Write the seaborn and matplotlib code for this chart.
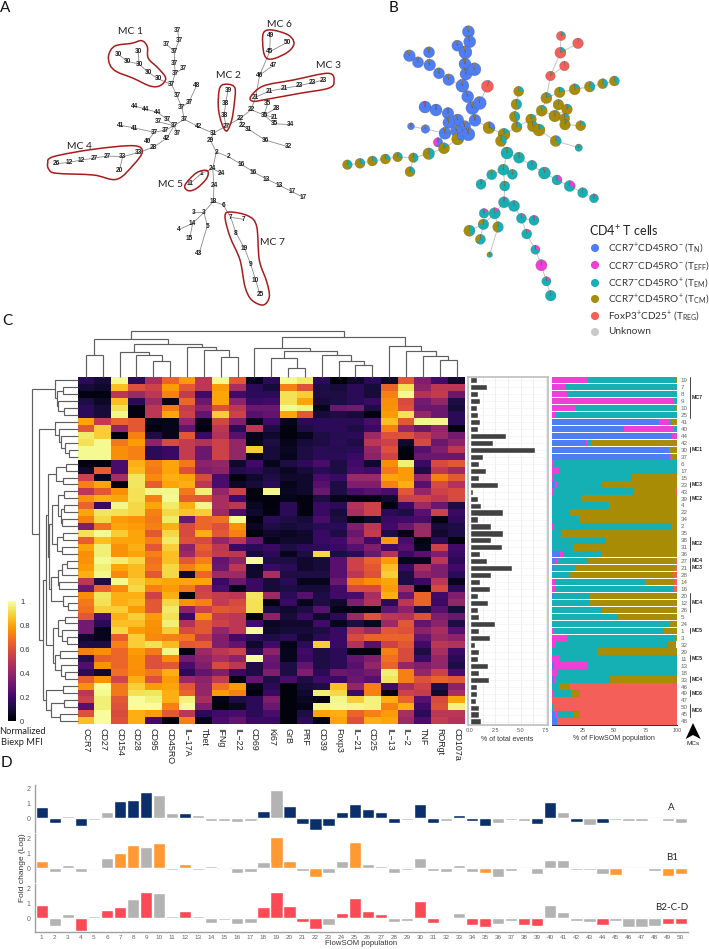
import numpy as np
import pandas as pd
import seaborn as sns
from matplotlib import pyplot as plt
from matplotlib.patches import PathPatch, Polygon
from matplotlib.path import Path

W, H = 709, 949
HEAT_BOX = (77.5, 376.7, 465.0, 724.3)
ROW_H = (HEAT_BOX[3] - HEAT_BOX[1]) / 50
COL_W = (HEAT_BOX[2] - HEAT_BOX[0]) / 23

MARKERS = ["CCR7", "CD27", "CD154", "CD28", "CD95", "CD45RO", "IL\u221217A", "Tbet", "IFNg", "IL\u221222",
           "CD69", "Ki67", "GrB", "PRF", "CD39", "Foxp3", "IL\u221221", "CD25", "IL\u221213", "IL\u22122",
           "TNF", "RORgt", "CD107a"]

# populations top to bottom as in the heatmap
ROW_POPS = [19, 7, 8, 9, 10, 25, 41, 40, 44, 42, 30, 37, 6, 17, 15, 23, 43, 39, 4, 22, 34, 2, 35, 38, 31,
            36, 27, 21, 28, 14, 16, 20, 12, 26, 5, 24, 1, 3, 32, 29, 11, 13, 18, 33, 46, 49, 47, 50, 45, 48]

# biexp MFI x100, rows as ROW_POPS, columns as MARKERS
HEAT = [
    [15, 10, 98, 15, 45, 65, 78, 50, 98, 62, 5, 15, 98, 94, 15, 2, 8, 15, 8, 62, 35, 20, 8],
    [10, 8, 85, 60, 55, 78, 62, 50, 78, 45, 15, 10, 72, 60, 12, 10, 15, 10, 65, 92, 38, 50, 50],
    [3, 3, 50, 42, 50, 72, 52, 20, 80, 20, 15, 15, 92, 88, 12, 12, 15, 10, 72, 98, 48, 52, 30],
    [12, 7, 85, 15, 42, 5, 66, 30, 80, 38, 18, 20, 92, 80, 10, 12, 15, 18, 75, 58, 32, 40, 12],
    [15, 10, 92, 3, 50, 70, 52, 38, 60, 50, 30, 30, 98, 96, 5, 30, 32, 12, 76, 60, 30, 30, 10],
    [15, 10, 97, 3, 50, 80, 55, 28, 88, 55, 25, 28, 80, 62, 10, 12, 10, 3, 78, 92, 40, 30, 15],
    [80, 52, 65, 62, 5, 5, 40, 5, 57, 35, 5, 20, 5, 15, 15, 15, 15, 22, 85, 62, 97, 97, 15],
    [62, 88, 40, 62, 3, 5, 28, 3, 50, 15, 50, 12, 3, 12, 15, 15, 12, 18, 72, 40, 30, 40, 3],
    [94, 88, 1, 72, 12, 5, 62, 18, 48, 25, 5, 8, 2, 5, 12, 14, 15, 42, 60, 60, 52, 42, 32],
    [92, 98, 70, 78, 38, 58, 52, 48, 55, 40, 5, 12, 5, 10, 12, 15, 12, 50, 55, 8, 58, 30, 38],
    [98, 98, 75, 72, 15, 18, 52, 30, 55, 40, 88, 10, 6, 12, 15, 14, 15, 40, 60, 3, 25, 35, 50],
    [98, 98, 75, 72, 15, 18, 52, 30, 55, 40, 5, 10, 5, 12, 15, 15, 18, 38, 55, 2, 30, 30, 30],
    [3, 2, 22, 82, 72, 80, 70, 38, 40, 8, 20, 5, 12, 16, 22, 12, 20, 8, 75, 95, 18, 58, 62],
    [8, 64, 22, 84, 70, 80, 60, 35, 38, 13, 15, 10, 6, 10, 15, 12, 22, 20, 70, 78, 12, 50, 42],
    [55, 6, 45, 93, 74, 82, 80, 58, 22, 2, 8, 12, 8, 8, 22, 18, 42, 42, 80, 78, 40, 72, 62],
    [72, 80, 3, 93, 64, 80, 82, 50, 22, 7, 10, 15, 5, 8, 25, 12, 35, 35, 72, 82, 25, 58, 48],
    [50, 62, 75, 92, 97, 97, 70, 95, 40, 55, 2, 97, 6, 8, 30, 12, 22, 25, 22, 62, 40, 55, 58],
    [76, 82, 80, 92, 72, 98, 63, 62, 45, 20, 3, 3, 5, 3, 12, 5, 3, 3, 8, 55, 55, 50, 58],
    [65, 18, 97, 90, 80, 94, 82, 97, 45, 50, 6, 2, 15, 3, 18, 15, 48, 55, 3, 18, 42, 30, 12],
    [80, 93, 92, 90, 72, 90, 86, 88, 42, 22, 8, 3, 15, 3, 18, 10, 45, 55, 15, 12, 25, 55, 18],
    [72, 90, 78, 76, 70, 94, 30, 66, 68, 98, 3, 15, 12, 10, 22, 12, 3, 8, 18, 20, 22, 3, 16],
    [35, 68, 80, 78, 72, 82, 58, 66, 60, 76, 6, 12, 10, 12, 15, 15, 35, 50, 20, 30, 42, 10, 12],
    [92, 98, 88, 80, 62, 90, 58, 82, 62, 72, 3, 8, 6, 8, 18, 12, 30, 52, 12, 4, 42, 8, 12],
    [64, 85, 80, 80, 72, 94, 60, 58, 40, 50, 28, 5, 8, 8, 18, 20, 35, 20, 78, 22, 3, 15, 2],
    [80, 95, 76, 82, 62, 88, 38, 64, 50, 18, 15, 18, 12, 15, 16, 18, 25, 35, 20, 25, 5, 55, 20],
    [75, 95, 76, 80, 72, 85, 42, 60, 52, 50, 10, 15, 5, 12, 90, 12, 15, 30, 48, 18, 25, 35, 18],
    [76, 98, 95, 90, 68, 85, 62, 72, 28, 38, 99, 12, 12, 8, 10, 25, 55, 65, 78, 5, 5, 50, 15],
    [78, 95, 80, 84, 70, 90, 72, 80, 30, 50, 8, 18, 15, 8, 10, 25, 55, 62, 85, 18, 45, 35, 20],
    [82, 97, 74, 84, 62, 90, 8, 66, 42, 42, 8, 45, 12, 12, 12, 25, 50, 60, 88, 12, 38, 35, 15],
    [50, 12, 98, 88, 82, 80, 80, 80, 18, 30, 18, 10, 15, 5, 5, 30, 70, 75, 80, 12, 18, 50, 5],
    [30, 66, 74, 90, 72, 78, 70, 55, 22, 5, 18, 10, 12, 10, 10, 20, 58, 58, 78, 45, 3, 58, 15],
    [75, 93, 82, 82, 55, 82, 3, 56, 52, 50, 93, 42, 15, 25, 12, 20, 22, 45, 82, 30, 65, 20, 35],
    [70, 92, 82, 84, 62, 90, 76, 72, 52, 58, 92, 3, 18, 5, 12, 8, 35, 48, 15, 50, 65, 18, 40],
    [68, 88, 88, 78, 62, 94, 38, 55, 62, 60, 92, 12, 8, 12, 25, 4, 3, 3, 28, 38, 12, 25, 10],
    [62, 22, 82, 88, 78, 92, 18, 76, 52, 50, 2, 38, 10, 18, 8, 15, 42, 60, 50, 48, 60, 35, 30],
    [32, 15, 85, 85, 76, 95, 48, 62, 55, 50, 20, 6, 8, 8, 20, 5, 12, 6, 42, 62, 28, 38, 12],
    [32, 5, 90, 78, 75, 88, 58, 62, 40, 50, 99, 8, 10, 10, 12, 18, 50, 42, 62, 60, 38, 45, 25],
    [8, 5, 64, 88, 74, 72, 70, 52, 35, 20, 15, 12, 15, 8, 15, 18, 58, 65, 65, 65, 28, 42, 38],
    [12, 12, 72, 88, 92, 84, 62, 64, 35, 28, 8, 20, 4, 15, 88, 18, 48, 25, 55, 62, 20, 50, 48],
    [72, 75, 66, 78, 70, 97, 3, 42, 50, 55, 15, 38, 5, 20, 12, 15, 3, 2, 72, 58, 12, 45, 18],
    [14, 64, 66, 76, 60, 74, 32, 38, 45, 38, 99, 30, 5, 18, 12, 15, 28, 35, 68, 58, 18, 40, 15],
    [24, 76, 66, 76, 60, 62, 22, 35, 58, 50, 12, 28, 12, 28, 12, 15, 25, 40, 65, 40, 35, 40, 12],
    [15, 8, 68, 75, 70, 82, 15, 28, 35, 18, 12, 35, 12, 35, 15, 30, 28, 32, 95, 72, 40, 55, 22],
    [64, 76, 56, 82, 60, 78, 42, 38, 52, 3, 28, 12, 22, 12, 20, 18, 30, 25, 93, 72, 60, 65, 62],
    [76, 99, 70, 88, 78, 80, 62, 40, 68, 78, 5, 15, 2, 10, 12, 85, 40, 72, 20, 45, 55, 12, 38],
    [50, 98, 70, 92, 93, 82, 65, 40, 78, 72, 2, 18, 2, 8, 95, 90, 18, 72, 2, 55, 52, 8, 45],
    [55, 95, 62, 99, 96, 82, 96, 45, 4, 12, 15, 35, 2, 6, 2, 97, 88, 96, 82, 65, 25, 58, 80],
    [25, 95, 60, 99, 99, 72, 99, 35, 3, 6, 15, 30, 2, 4, 97, 98, 97, 96, 72, 82, 20, 60, 96],
    [60, 99, 58, 82, 78, 62, 50, 15, 20, 22, 15, 22, 2, 12, 80, 82, 65, 72, 78, 45, 15, 50, 50],
    [85, 99, 60, 82, 20, 2, 72, 5, 22, 28, 18, 18, 2, 15, 3, 80, 60, 82, 80, 42, 22, 52, 48],
]

PCT_EVENTS = [0.72, 1.7, 0.75, 1.0, 0.65, 0.8, 1.0, 0.8, 3.55, 2.3, 6.4, 1.3, 0.9, 1.6, 0.9, 2.75, 0.25, 0.8,
              1.05, 3.3, 0.8, 2.1, 3.3, 2.05, 3.2, 1.0, 1.65, 4.2, 2.1, 1.0, 2.0, 0.8, 1.75, 0.75, 0.9, 2.5,
              0.9, 1.95, 0.45, 0.9, 0.8, 1.75, 0.9, 1.85, 0.7, 0.65, 0.6, 0.9, 0.9, 1.05]

PCT_TN = [0, 0, 0, 0, 0, 0, 86, 58, 96.5, 27.5, 93.8, 95, 0, 0, 0, 3, 0, 0, 0, 0, 0, 0, 0, 0, 0, 6.4, 3.2, 1,
          0.5, 0, 0, 1.6, 0.5, 0, 0, 0, 0, 0, 0, 0, 0, 1.9, 0, 1.6, 0.3, 0, 0, 0, 2.7, 4]
PCT_TEFF = [29, 10.4, 12.5, 97.6, 18.4, 2.7, 8.3, 40, 3.5, 0.5, 1, 0.8, 1.9, 6.1, 1.3, 1.3, 1.6, 0, 0, 0, 0, 1.9,
            0, 0, 0, 2.9, 0.8, 0, 0, 2.7, 3, 0, 0, 0, 0, 0, 1.9, 12.5, 3.2, 0, 6.4, 27, 4, 1.6, 0, 0.8, 0, 0,
            2.7, 1.3]
PCT_TEM = [70.5, 89.6, 87.5, 2.4, 81, 97.3, 1.6, 2.2, 0, 3.7, 0, 0, 98.1, 93.9, 63, 35.8, 64.2, 23.8, 46, 14.7,
           22.5, 94.3, 7.8, 43.6, 18, 30.5, 25, 17.6, 14.2, 72.5, 94.6, 29, 29.5, 40.4, 53, 94, 88, 86.5, 90,
           36.4, 93.6, 71.1, 96, 43.3, 5.9, 15.8, 0.2, 1.3, 11.5, 0]
PCT_TCM = [0.5, 0, 0, 0, 0.6, 0, 4.1, 0, 0, 68.3, 5.2, 4.2, 0, 0, 35.7, 59.9, 32.9, 76.2, 54, 85.3, 77.5, 3.8,
           92.2, 56.4, 82, 60.2, 69.5, 79.9, 83, 23, 0, 69.4, 70, 59.6, 47, 6, 10.1, 1, 6.6, 63.6, 0, 0, 0,
           53.5, 8.5, 6.1, 0, 0, 5.9, 0]
PCT_TREG = [0, 0, 0, 0, 0, 0, 0, 0, 0, 0, 0, 0, 0, 0, 0, 0, 1.3, 0, 0, 0, 0, 0, 0, 0, 0, 0, 1.5, 1.5, 2.3, 1.8,
            2.4, 0, 0, 0, 0, 0, 0, 0, 0, 0, 0, 0, 0, 0, 85.3, 77.3, 99.8, 98.7, 77.2, 94.7]

SUBSET_COLORS = ["#4F7DF3", "#EE3FD6", "#15B0B4", "#A98C06", "#F45F5A"]
SUBSET_LABELS = ["CCR7$^{+}$CD45RO$^{-}$ (T$_{N}$)", "CCR7$^{-}$CD45RO$^{-}$ (T$_{EFF}$)",
                 "CCR7$^{-}$CD45RO$^{+}$ (T$_{EM}$)", "CCR7$^{+}$CD45RO$^{+}$ (T$_{CM}$)",
                 "FoxP3$^{+}$CD25$^{+}$ (T$_{REG}$)", "Unknown"]

# first row, last row, name
MC_BRACKETS = [(0, 5, "MC7"), (10, 10, "MC1"), (15, 15, "MC3"), (17, 17, "MC2"), (23, 24, "MC2"), (26, 26, "MC4"),
               (27, 27, "MC3"), (31, 33, "MC4"), (36, 36, "MC5"), (40, 40, "MC5"), (43, 43, "MC4"),
               (45, 45, "MC6"), (47, 48, "MC6")]

# minimum spanning tree, node positions in figure pixels
NODE_LABELS = [37, 37, 37, 37, 37, 37, 37, 37, 37, 37, 37, 48, 37, 42, 31, 29, 2, 2, 16, 16, 13, 13, 17, 17, 24,
               24, 1, 11, 24, 18, 6, 3, 3, 14, 4, 15, 5, 43, 7, 7, 8, 19, 9, 10, 25, 30, 30, 30, 30, 30, 30,
               44, 44, 44, 37, 37, 37, 41, 41, 37, 37, 37, 40, 42, 28, 33, 33, 27, 27, 12, 12, 26, 20,
               27, 38, 38, 39, 22, 22, 31, 36, 32, 22, 21, 21, 21, 23, 23, 23, 46, 47, 45, 49, 50, 35, 28, 35,
               21, 35, 34]
NODE_X = [177.7, 179, 166.7, 174.7, 174.3, 175.3, 183.7, 171.7, 177, 181.7, 189, 196.7, 184.3, 198.3, 213.3, 210.3,
          216.3, 228.3, 241.3, 253.7, 266.3, 279, 292, 303.3, 212.7, 221.7, 201, 190.3, 214, 213.3, 223.3, 193.3,
          204, 192.7, 178.7, 189.7, 207.3, 199, 230.7, 243.3, 236, 244.7, 250.7, 255.7, 260, 138.3, 118.7, 127.3,
          139, 148.3, 158, 134.3, 145.3, 157.3, 167, 158, 174, 120.3, 134.7, 154.3, 165.7, 177.7, 147.3, 167,
          153.3, 138, 122.7, 107, 94.7, 81.7, 69.3, 56.7, 119.3, 226, 224, 225.7, 228, 240.3, 242, 248.3, 265,
          288, 251, 255.7, 269, 284, 299, 312, 323.7, 259.7, 273.7, 269.7, 270.3, 287.3, 267.7, 276.3, 264, 274,
          274.3, 290]
NODE_Y = [30.7, 40.7, 44.7, 51.3, 63, 73, 68.3, 84.7, 95.7, 107, 102, 85.3, 119.3, 126.7, 133.3, 140, 152, 156.7,
          164.3, 172, 179, 185, 191.7, 197.3, 168.7, 173.3, 173.7, 183.3, 185, 201.3, 205, 212.3, 212.3, 223.3,
          229.7, 238.3, 226, 253.7, 217.3, 219.3, 233, 248.7, 264.3, 280.3, 294.7, 51.3, 54.7, 61.3, 64, 72.3,
          78.7, 106, 109, 112.3, 119, 121.7, 125.7, 125.3, 128, 132.3, 130, 133.3, 141.3, 138, 147.3, 152.7, 156.7,
          156, 158, 160, 162.3, 163.7, 170.7, 126, 115.7, 103.3, 90.3, 118.3, 125.3, 129, 140, 146.7, 109.7, 97,
          91.3, 88.3, 85.7, 82.7, 80, 75, 65, 51.7, 35, 42.3, 103.7, 108.3, 115, 117.3, 123.7, 124.7]
NODE_R = [6, 6, 5.5, 6.5, 6, 6, 6.5, 6.5, 6, 6.5, 6.5, 6, 6, 6, 6, 5.5, 6, 5.5, 5, 6, 5, 5.5, 5, 4.5, 5.5, 5, 5, 5,
          5, 5.5, 5.5, 4.8, 5.6, 5.3, 5.6, 5, 5.3, 2.8, 5, 5, 5, 4.6, 5.6, 4.6, 5.3, 5.5, 5.8, 5.5, 5.8, 5.5, 5.8,
          6, 6, 5.8, 6, 5.8, 6, 3.5, 4.3, 6, 5.8, 6.5, 4.7, 6, 5.5, 5.8, 4.8, 4.8, 5, 5, 5, 4.8, 5,
          5.3, 5.3, 5.3, 5, 5.3, 5.3, 6, 5.5, 3.7, 5.5, 5.5, 5.3, 5.5, 5.3, 5, 5, 4.8, 4.8, 5.5, 4.6, 5.3, 5.3, 5.3,
          5.8, 5, 5.3, 5]
NODE_EDGES = [(0, 1), (1, 3), (2, 3), (3, 4), (4, 5), (5, 6), (5, 7), (7, 8), (8, 9), (9, 10), (10, 11), (9, 12),
              (12, 13), (13, 14), (14, 15), (15, 16), (16, 17), (17, 18), (18, 19), (19, 20), (20, 21), (21, 22),
              (22, 23), (16, 24), (24, 25), (24, 26), (26, 27), (24, 28), (28, 29), (29, 30), (29, 32), (32, 31),
              (32, 33), (33, 34), (33, 35), (32, 36), (36, 37), (30, 38), (38, 39), (38, 40), (40, 41), (41, 42),
              (42, 43), (43, 44), (7, 50), (50, 49), (49, 48), (48, 45), (48, 47), (47, 46), (51, 52), (52, 53),
              (53, 54), (54, 56), (55, 56), (56, 12), (57, 58), (58, 59), (59, 60), (60, 56), (59, 62), (56, 61),
              (56, 63), (63, 64), (64, 65), (65, 66), (66, 67), (67, 68), (68, 69), (69, 70), (70, 71), (66, 72),
              (14, 73), (73, 74), (74, 75), (75, 76), (73, 77), (77, 78), (78, 79), (79, 80), (80, 81), (77, 82),
              (82, 83), (83, 84), (84, 85), (85, 86), (86, 87), (87, 88), (83, 89), (89, 90), (89, 91), (91, 92),
              (91, 93), (82, 96), (96, 94), (96, 95), (96, 97), (96, 98), (98, 99)]
B_SHIFT = (290.7, 1.0)

# outline control points in figure pixels
MC_OUTLINES = {
    "MC 1": [(108.7, 55), (115, 46), (131.7, 43.3), (141.7, 40.7), (147.3, 46.7), (148.3, 58.3), (158.3, 68.3),
             (165.7, 78.3), (160, 85.7), (150, 86), (133.3, 78.3), (116.7, 71.7), (110, 65)],
    "MC 2": [(220, 87.3), (228.3, 84.3), (235, 88.3), (234.3, 103.3), (231.7, 120), (226.7, 131), (221.7, 123.3),
             (218.3, 106.7)],
    "MC 3": [(250.7, 96.7), (263.3, 86), (293.3, 80), (328.3, 73.3), (334, 81.7), (328.3, 88.3), (300, 93.3),
             (266.7, 99.3), (253.3, 101.3)],
    "MC 4": [(47.7, 163.3), (53.3, 156.7), (93.3, 149.3), (133.3, 145.7), (142.3, 151.7), (133.3, 165), (116.7, 179.3),
             (93.3, 175), (56.7, 173.3), (49.3, 170)],
    "MC 5": [(185, 185), (196.7, 172.7), (207.3, 170.7), (206.7, 178.3), (196.7, 188.3), (188.3, 190.7)],
    "MC 6": [(263.3, 33.3), (271.7, 30), (288.3, 35), (294, 43.3), (288.3, 51.7), (275, 58.3), (266.7, 58.3), (263.3, 50)],
    "MC 7": [(225, 216.7), (230, 212), (248.3, 216), (256.7, 226.7), (259.3, 260), (266.7, 281.7), (269.3, 296.7),
             (263.3, 305), (251.7, 300), (245, 286.7), (240, 260), (230, 236.7)],
}
MC_TEXT = [("MC 1", 130, 31), ("MC 2", 228.5, 75), ("MC 3", 328.5, 65.5), ("MC 4", 79, 146), ("MC 5", 171, 184.5),
           ("MC 6", 279, 24.5), ("MC 7", 272, 242.5)]

# column dendrogram as (height px, left, right), leaves are column numbers
COL_TREE = (46,
            (37.7, (22, 0, 1),
             (33, (25, 2, (21.7, 3, (16, 4, 5))), (30, 6, (27, 7, (19.3, 8, 9))))),
            (40,
             (28.3, 10, (25.3, (18.7, 11, (8.7, 12, 13)), (21.7, 14, (15.7, 15, (11.7, 16, 17))))),
             (31, 18, (26, 19, (20.3, 20, (16.7, 21, 22))))))

ROW_A = (23, 0, (21, (15, 1, 2), (20, 3, (14, 4, 5))))
ROW_B = (23, 6, (19, 7, (17, 8, (13, 9, (9, 10, 11)))))
ROW_F1 = (22, (12, 12, 13), (15, 14, 15))
ROW_F2 = (26, (20, (14, 16, 17), (17, (14, 18, 19), (16, 20, 21))), (21, (15, 22, 23), (16, 24, 25)))
ROW_F3 = (27, (20, (16, (11, 26, 27), 28), (19, 29, 30)), (15, 31, (10, 32, 33)))
ROW_F4 = (25, (20, (13, 34, 35), (16, 36, (11, 37, 38))), (23, (18, 39, 40), (17, 41, (13, 42, 43))))
ROW_G = (32, (15, 44, 45), (27, (14, 46, 47), (18, 48, 49)))
ROW_TREE = (46, ROW_A, (39, ROW_B, (35, (32, (30, ROW_F1, (28.5, ROW_F2, ROW_F3)), ROW_F4), ROW_G)))

# panel D, populations 1 to 50
FOLD_A = [0.73, -0.29, 0.13, -0.49, -0.09, 0.42, 1.18, 1.24, 1.73, 1.58, 0.36, 0.38, 0.2, -0.18, -0.18, -0.24, -0.18,
          0.49, 1.89, 0.82, -0.38, -0.76, -0.51, 0.42, 0.96, 0.6, 0.42, -0.31, -0.1, 0.93, -0.33, -0.2, 0.2, -0.2,
          -0.49, -0.29, -0.13, -0.16, -0.38, 1.07, 0.4, -0.24, -0.44, -0.33, -0.11, -0.2, -0.2, -0.02, -0.16, -0.29]
FOLD_B1 = [0.49, -0.22, 0.24, -0.24, 0.11, 0.67, 1.04, 1.58, 1.4, 1.67, -0.09, 0.29, -0.11, 0.13, 0.04, -0.33, -0.22,
           0.4, 2.11, 0.47, -0.2, -0.6, -0.33, 0.51, 1.73, 0.29, 0.16, -0.29, -0.11, 0.71, -0.2, -0.22, 0.22, -0.24,
           -0.31, -0.6, -0.16, -0.07, -0.38, 0.56, 0.56, -0.09, -0.11, -0.38, -0.44, -0.07, -0.07, -0.18, -0.49, -0.38]
FOLD_B2 = [0.87, -0.49, 0.31, -0.82, 0.13, 0.53, 0.73, 1.29, 1.76, 1.69, 0.13, 0.49, 0.18, -0.29, -0.11, -0.4, -0.29,
           0.73, 1.78, 0.82, -0.24, -0.71, -0.44, 0.36, 1.36, 0.47, 0.31, -0.22, -0.16, 1.18, -0.31, -0.04, 0.36, -0.44,
           -0.56, -0.38, -0.16, -0.42, -0.49, 0.89, 0.44, -0.18, -0.27, -0.47, -0.18, -0.56, -0.6, -0.49, -0.4, -0.4]
SIG_A = [1, 2, 4, 7, 8, 9, 12, 18, 20, 21, 22, 23, 24, 25, 26, 27, 28, 30, 31, 33, 34, 35, 39, 40, 42, 44]
SIG_B1 = [1, 7, 8, 10, 12, 19, 20, 22, 25, 35, 45, 49, 50]
SIG_B2 = [1, 4, 6, 7, 9, 12, 18, 19, 20, 21, 22, 24, 25, 26, 27, 30, 31, 34, 35, 38, 39, 44, 49, 50]

sns.set_theme(style="white")
plt.rcParams["font.family"] = ["Liberation Sans", "DejaVu Sans"]
plt.rcParams["mathtext.default"] = "regular"
LATO = ["Lato", "DejaVu Sans"]

fig = plt.figure(figsize=(W / 100, H / 100), dpi=100)


def px_axes(x0, y0, x1, y1):
    return fig.add_axes([x0 / W, 1 - y1 / H, (x1 - x0) / W, (y1 - y0) / H])


def smooth_patch(points, **kwargs):
    """Closed Catmull-Rom outline through the control points"""
    pts = np.array(points)
    verts, codes = [pts[0]], [Path.MOVETO]
    n = len(pts)
    for i in range(n):
        p0, p1, p2, p3 = pts[i - 1], pts[i], pts[(i + 1) % n], pts[(i + 2) % n]
        verts += [p1 + (p2 - p0) / 6, p2 - (p3 - p1) / 6, p2]
        codes += [Path.CURVE4] * 3
    return PathPatch(Path(verts, codes), fill=False, **kwargs)


def draw_tree(ax, node, to_xy):
    """Draws a nested (height, left, right) tree, returns leaf position and height"""
    if not isinstance(node, tuple):
        return node + 0.5, 0
    height, left, right = node
    p1, h1 = draw_tree(ax, left, to_xy)
    p2, h2 = draw_tree(ax, right, to_xy)
    line = [to_xy(p1, h1), to_xy(p1, height), to_xy(p2, height), to_xy(p2, h2)]
    ax.plot(*zip(*line), color="#5f5f5f", lw=0.85, solid_joinstyle="miter", solid_capstyle="butt")
    return (p1 + p2) / 2, height


# overlay in figure pixels for panels A and B and the annotations
over = fig.add_axes([0, 0, 1, 1], zorder=5)
over.patch.set_alpha(0)

for a, b in NODE_EDGES:
    over.plot([NODE_X[a], NODE_X[b]], [NODE_Y[a], NODE_Y[b]], color="#8a8a8a", lw=0.6, zorder=1)
    over.plot([NODE_X[a] + B_SHIFT[0], NODE_X[b] + B_SHIFT[0]], [NODE_Y[a] + B_SHIFT[1], NODE_Y[b] + B_SHIFT[1]],
              color="#c4c4c4", lw=0.7, zorder=1)
for label, x, y in zip(NODE_LABELS, NODE_X, NODE_Y):
    over.text(x, y, str(label), ha="center", va="center", fontsize=4.7, fontweight="bold", color="#222222", zorder=3)

for points in MC_OUTLINES.values():
    over.add_patch(smooth_patch(points, edgecolor="#A81C1C", lw=1.1, zorder=4))
for name, x, y in MC_TEXT:
    over.text(x, y, name, ha="center", va="center", fontsize=7.4, family=LATO, color="#222222")

composition = pd.DataFrame({"N": PCT_TN, "EFF": PCT_TEFF, "EM": PCT_TEM, "CM": PCT_TCM, "REG": PCT_TREG},
                           index=ROW_POPS)
for label, x, y, r in zip(NODE_LABELS, NODE_X, NODE_Y, NODE_R):
    # y axis runs downwards here, so counterclock comes out clockwise from 12 o'clock
    over.pie(composition.loc[label].values, center=(x + B_SHIFT[0], y + B_SHIFT[1]), radius=r, startangle=270,
             colors=SUBSET_COLORS, wedgeprops={"linewidth": 0.15, "edgecolor": "#555555", "zorder": 2})

over.text(589, 231, "CD4$^{+}$ T cells", ha="left", va="center", fontsize=9, family=LATO, color="#222222")
legend_y = [248, 265, 283, 299, 316, 332]
over.scatter([595] * 6, legend_y, s=34, c=SUBSET_COLORS + ["#C9C9C9"], linewidths=0, zorder=3)
for y, label in zip(legend_y, SUBSET_LABELS):
    over.text(607.7, y, label, ha="left", va="center", fontsize=7.2, family=LATO, color="#333333")

for letter, x, y in [("A", 5, 8), ("B", 394, 8), ("C", 7, 321), ("D", 6, 763)]:
    over.text(x, y, letter, ha="center", va="center", fontsize=11, family=LATO, color="#111111")

draw_tree(over, COL_TREE, lambda p, h: (HEAT_BOX[0] + COL_W * p, HEAT_BOX[1] - h))
draw_tree(over, ROW_TREE, lambda p, h: (HEAT_BOX[0] - h, HEAT_BOX[1] + ROW_H * p))

over.text(22, 731, "Normalized", ha="center", va="center", fontsize=6.7, family=LATO, color="#222222")
over.text(22, 742.5, "Biexp MFI", ha="center", va="center", fontsize=6.7, family=LATO, color="#222222")

for first, last, name in MC_BRACKETS:
    y0 = HEAT_BOX[1] + ROW_H * first + 0.7
    y1 = HEAT_BOX[1] + ROW_H * (last + 1) - 0.7
    over.plot([690, 690], [y0, y1], color="#444444", lw=0.7)
    over.text(692, (y0 + y1) / 2, name, ha="left", va="center", fontsize=3.7, fontweight="bold", color="#222222")

over.add_patch(Polygon([(693, 723), (685.7, 739), (693, 735), (700.7, 739)], closed=True, color="black", lw=0))
over.text(693, 743.5, "MCs", ha="center", va="center", fontsize=4.6, color="#222222")

over.set_xlim(0, W)
over.set_ylim(H, 0)
over.set_axis_off()

# panel C heatmap
heat_ax = px_axes(*HEAT_BOX)
cbar_ax = px_axes(8, 601, 16, 721)
heat_df = pd.DataFrame(np.array(HEAT) / 100, index=ROW_POPS, columns=MARKERS)
sns.heatmap(heat_df, ax=heat_ax, cmap="inferno", vmin=0, vmax=1, cbar_ax=cbar_ax, xticklabels=True,
            yticklabels=False)
heat_ax.tick_params(axis="x", length=0, pad=2.5, labelsize=6.4, labelcolor="#222222")
plt.setp(heat_ax.get_xticklabels(), rotation=270, ha="center", va="top")
heat_ax.set_xlabel("")
heat_ax.set_ylabel("")
cbar_ax.set_yticks([0, 0.2, 0.4, 0.6, 0.8, 1])
cbar_ax.set_yticklabels(["0", "0.2", "0.4", "0.6", "0.8", "1"])
cbar_ax.tick_params(length=0, pad=3, labelsize=5.5, labelcolor="#333333")
for spine in cbar_ax.spines.values():
    spine.set_visible(False)

# % of total events
events_ax = px_axes(467.5, 376.7, 547.7, 725)
sns.barplot(x=PCT_EVENTS, y=[str(p) for p in ROW_POPS], order=[str(p) for p in ROW_POPS], orient="h",
            color="#414141", width=0.88, saturation=1, ax=events_ax)
events_ax.set_xlim(-0.25, 7.69)
events_ax.set_ylim(49.5, -0.5)
events_ax.set_xticks([0, 2.5, 5, 7.5])
events_ax.set_xticklabels(["0.0", "2.5", "5.0", "7.5"])
events_ax.set_xticks([1.25, 3.75, 6.25], minor=True)
events_ax.set_yticks([])
events_ax.grid(True, axis="x", which="both", color="#ececec", lw=0.6)
for r in range(50):
    events_ax.axhline(r, color="#f0f0f0", lw=0.4, zorder=0)
events_ax.set_axisbelow(True)
events_ax.tick_params(axis="x", which="both", length=0, pad=2.5, labelsize=3.9, labelcolor="#555555")
events_ax.set_xlabel("% of total events", fontsize=5, color="#333333", labelpad=1.5)
events_ax.set_ylabel("")
for spine in events_ax.spines.values():
    spine.set_color("#bdbdbd")
    spine.set_linewidth(1.2)

# % of FlowSOM population
stack_ax = px_axes(551.7, 376.7, 676.7, 724.8)
left = np.zeros(50)
for values, color in zip(composition.T.values, SUBSET_COLORS):
    stack_ax.barh(np.arange(50), values, left=left, height=0.93, color=color, linewidth=0)
    left += values
stack_ax.set_xlim(0, 100)
stack_ax.set_ylim(49.5, -0.5)
stack_ax.set_xticks([25, 50, 75, 100])
stack_ax.yaxis.tick_right()
stack_ax.set_yticks(np.arange(50))
stack_ax.set_yticklabels(ROW_POPS)
stack_ax.tick_params(axis="y", length=0, pad=3, labelsize=4.5, labelcolor="#666666")
stack_ax.tick_params(axis="x", length=0, pad=2.5, labelsize=3.9, labelcolor="#555555")
stack_ax.set_xlabel("% of FlowSOM population", fontsize=5, color="#333333", labelpad=1.5)
for side in ["top", "left", "right"]:
    stack_ax.spines[side].set_visible(False)
stack_ax.spines["bottom"].set_color("#3a2a2a")
stack_ax.spines["bottom"].set_linewidth(0.7)

# panel D
POPS = list(range(1, 51))
D_PANELS = [
    (FOLD_A, SIG_A, "#0B2F6B", (785, 831.7), (-0.893, 2.22), "A", 807.7),
    (FOLD_B1, SIG_B1, "#FF9933", (834, 881.7), (-0.893, 2.29), "B1", 858),
    (FOLD_B2, SIG_B2, "#FB4A55", (884, 932.3), (-0.933, 2.29), "B2-C-D", 908),
]
for values, significant, color, (top, bottom), ylim, name, name_y in D_PANELS:
    ax = px_axes(34.7, top, 688, bottom)
    groups = ["sig" if p in significant else "ns" for p in POPS]
    ax.axhline(0, color="#bdbdbd", lw=0.8, zorder=0)
    sns.barplot(x=POPS, y=values, hue=groups, hue_order=["sig", "ns"], palette={"sig": color, "ns": "#B3B3B3"},
                dodge=False, legend=False, width=0.94, saturation=1, ax=ax)
    ax.set_xlim(-0.54, 49.56)
    ax.set_ylim(*ylim)
    ax.set_yticks([0, 1, 2])
    ax.tick_params(axis="y", length=1.5, width=0.5, color="#888888", pad=1.5, labelsize=5, labelcolor="#666666")
    for side in ["top", "right", "bottom"]:
        ax.spines[side].set_visible(False)
    ax.spines["left"].set_color("#a0a0a0")
    ax.spines["left"].set_linewidth(1)
    ax.patch.set_alpha(0)
    over.text(671.7, name_y, name, ha="center", va="center", fontsize=7, family=LATO, color="#222222")
    if name == "B2-C-D":
        ax.spines["bottom"].set_visible(True)
        ax.spines["bottom"].set_color("#a0a0a0")
        ax.spines["bottom"].set_linewidth(1)
        ax.tick_params(axis="x", length=1, width=0.5, color="#888888", pad=1, labelsize=4.6, labelcolor="#666666")
        ax.set_xlabel("")
    else:
        ax.set_xticks([])

over.text(361, 943.5, "FlowSOM population", ha="center", va="center", fontsize=5.6, color="#333333")
over.text(23, 868, "Fold change (Log)", rotation=90, ha="center", va="center", fontsize=6, color="#333333")

fig.savefig("out.png", dpi=100)
